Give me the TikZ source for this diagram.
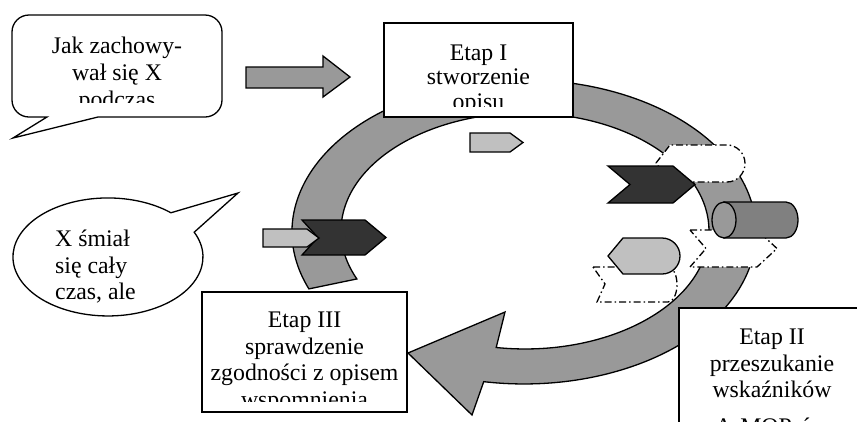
\documentclass[tikz,border=0pt]{standalone}
\usepackage{fontspec}
\setmainfont{Liberation Serif}
\definecolor{ringgray}{HTML}{999999}
\definecolor{lightgray2}{HTML}{C0C0C0}
\definecolor{darkgray2}{HTML}{333333}
\definecolor{midgray}{HTML}{808080}
\begin{document}
\begin{tikzpicture}[x=1pt,y=-1pt,
  outl/.style={draw=black,line width=1.3pt,line join=miter},
  ringshape/.style={outl,fill=ringgray},
  lightshape/.style={outl,fill=lightgray2},
  darkshape/.style={outl,fill=darkgray2},
  ghost/.style={draw=black,fill=white,line width=1.3pt,dash pattern=on 7pt off 3pt on 1.5pt off 3pt},
  boxnode/.style={draw=black,fill=white,line width=1.4pt,inner sep=0pt},
  txt/.style={font=\fontsize{23.8}{27}\selectfont,inner sep=0pt,anchor=base}]
\useasboundingbox (0,0) rectangle (857,421);
\clip (0,0) rectangle (857,421);

% big circular arrow
\path[ringshape] (308.9,288.9)
  arc[start angle=158,end angle=460,x radius=232,y radius=152]
  -- (472,415) -- (408,353) -- (505,312) -- (496.2,347.5)
  arc[start angle=459,end angle=156,x radius=184,y radius=118] -- cycle;

% top block arrow
\path[ringshape] (246,67) -- (323,67) -- (323,56) -- (350,77) -- (323,97) -- (323,88) -- (246,88) -- cycle;

% boxes
\node[boxnode,minimum width=189pt,minimum height=94pt] (box1) at (478.5,70) {};
\node[boxnode,minimum width=205pt,minimum height=120pt] (box3) at (304.5,352) {};
\node[boxnode,minimum width=186pt,minimum height=140pt] (box2) at (772,378) {};

\begin{scope}
\clip (384,23) rectangle (573,106.5);
\node[txt] (b1l1) at (478.5,60) {Etap I};
\node[txt] (b1l2) at (478.5,84.5) {stworzenie};
\node[txt] (b1l3) at (478.5,109.5) {opisu};
\end{scope}
\begin{scope}
\clip (202,292) rectangle (407,401);
\node[txt] (b3l1) at (304.5,327.5) {Etap III};
\node[txt] (b3l2) at (304.5,354) {sprawdzenie};
\node[txt] (b3l3) at (304.5,380.5) {zgodności z opisem};
\node[txt] (b3l4) at (304.5,407) {wspomnienia};
\end{scope}
\node[txt] (b2l1) at (772,344.5) {Etap II};
\node[txt] (b2l2) at (772,371) {przeszukanie};
\node[txt] (b2l3) at (772,397.5) {wskaźników};
\node[txt] (b2l4) at (772,434.5) {A-MOP-ów};

% small top pentagon
\path[lightshape] (470,133) -- (510,133) -- (523,142.5) -- (510,152) -- (470,152) -- cycle;

% left chevron and pentagon
\path[darkshape] (302,220) -- (365,220) -- (386,237.5) -- (365,255) -- (302,255) -- (318,237.5) -- cycle;
\path[lightshape] (263,229) -- (307,229) -- (319,238) -- (307,247) -- (263,247) -- cycle;

% right side shapes
\path[ghost] (656,163) -- (670,145) -- (727,145)
  arc[start angle=-90,end angle=90,x radius=18,y radius=18.5] -- (670,182) -- cycle;
\path[darkshape] (608,166) -- (673,166) -- (695,184.5) -- (673,203) -- (608,203) -- (630,184.5) -- cycle;
\path[ghost] (690,230) -- (757,230) -- (777,248.5) -- (757,267) -- (690,267) -- (706,248.5) -- cycle;
\path[outl,fill=midgray] (724,202) -- (786,202)
  arc[start angle=-90,end angle=90,x radius=12,y radius=18] -- (724,238) -- cycle;
\path[outl,fill=ringgray] (724,220) ellipse[x radius=12,y radius=18];
\path[ghost] (593,267) -- (668,267)
  arc[start angle=-90,end angle=90,x radius=9,y radius=17.5] -- (597,302) -- (605,284) -- cycle;
\path[lightshape] (608,256) -- (623,238) -- (662,238)
  arc[start angle=-90,end angle=90,x radius=18,y radius=18] -- (623,274) -- cycle;

% speech bubble 1
\path[outl,fill=white] (98,117) -- (205,117)
  arc[start angle=90,end angle=0,radius=17] -- (222,32)
  arc[start angle=0,end angle=-90,radius=17] -- (29,15)
  arc[start angle=-90,end angle=-180,radius=17] -- (12,100)
  arc[start angle=180,end angle=90,radius=17] -- (47,117) -- (13,138) -- cycle;
\begin{scope}
\clip (12,15) rectangle (222,102);
\node[txt] (s1l1) at (117,53) {Jak zachowy-};
\node[txt] (s1l2) at (117,80) {wał się X};
\node[txt] (s1l3) at (117,107) {podczas};
\end{scope}

% speech bubble 2
\path[outl,fill=white] (194.2,232.2)
  arc[start angle=-24.8,end angle=311.5,x radius=95,y radius=59]
  -- (238,193) -- cycle;
\begin{scope}
\clip (13,198) rectangle (203,304);
\node[txt,anchor=base west] (s2l1) at (55,246.5) {X śmiał};
\node[txt,anchor=base west] (s2l2) at (55,273) {się cały};
\node[txt,anchor=base west] (s2l3) at (55,299.5) {czas, ale};
\end{scope}
\end{tikzpicture}
\end{document}
